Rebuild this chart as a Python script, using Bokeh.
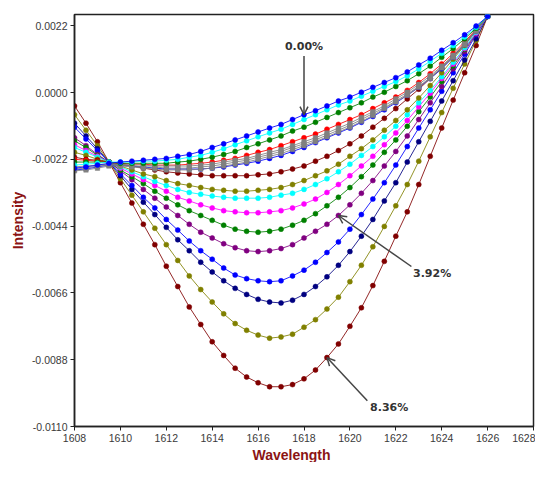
from bokeh.plotting import figure
from bokeh.models import FixedTicker, PrintfTickFormatter, Arrow, OpenHead, Label, Title
from bokeh.embed import file_html
from bokeh.resources import INLINE

# ---------------- data ----------------
wavelength = [1608.0, 1608.5, 1609.0, 1609.5, 1610.0, 1610.5, 1611.0, 1611.5, 1612.0, 1612.5,
              1613.0, 1613.5, 1614.0, 1614.5, 1615.0, 1615.5, 1616.0, 1616.5, 1617.0, 1617.5,
              1618.0, 1618.5, 1619.0, 1619.5, 1620.0, 1620.5, 1621.0, 1621.5, 1622.0, 1622.5,
              1623.0, 1623.5, 1624.0, 1624.5, 1625.0, 1625.5, 1626.0]

s_blue_000 = [-0.00249, -0.00245, -0.00239, -0.00233, -0.00229, -0.00226, -0.00223, -0.00220, -0.00217, -0.00210,
              -0.00204, -0.00194, -0.00181, -0.00169, -0.00156, -0.00143, -0.00130, -0.00117, -0.00105, -0.00089,
              -0.00073, -0.00060, -0.00044, -0.00028, -0.00015, 0.00001, 0.00017, 0.00033, 0.00049, 0.00068,
              0.00091, 0.00113, 0.00139, 0.00164, 0.00190, 0.00219, 0.00251]
s_cyan_a = [-0.00239, -0.00236, -0.00233, -0.00229, -0.00229, -0.00229, -0.00226, -0.00226, -0.00223, -0.00220,
            -0.00213, -0.00207, -0.00197, -0.00185, -0.00172, -0.00159, -0.00146, -0.00133, -0.00121, -0.00105,
            -0.00089, -0.00073, -0.00057, -0.00041, -0.00028, -0.00012, 0.00004, 0.00020, 0.00036, 0.00055,
            0.00078, 0.00103, 0.00129, 0.00155, 0.00183, 0.00215, 0.00251]
s_green_a = [-0.00229, -0.00229, -0.00229, -0.00229, -0.00233, -0.00233, -0.00233, -0.00233, -0.00233, -0.00229,
             -0.00226, -0.00220, -0.00213, -0.00204, -0.00194, -0.00181, -0.00169, -0.00156, -0.00143, -0.00127,
             -0.00114, -0.00098, -0.00082, -0.00066, -0.00050, -0.00034, -0.00015, 0.00001, 0.00020, 0.00039,
             0.00062, 0.00087, 0.00116, 0.00145, 0.00177, 0.00212, 0.00251]
s_red = [-0.00220, -0.00223, -0.00226, -0.00229, -0.00233, -0.00236, -0.00236, -0.00239, -0.00239, -0.00239,
         -0.00236, -0.00233, -0.00229, -0.00223, -0.00217, -0.00207, -0.00197, -0.00188, -0.00175, -0.00162,
         -0.00149, -0.00137, -0.00121, -0.00105, -0.00089, -0.00073, -0.00053, -0.00034, -0.00015, 0.00007,
         0.00033, 0.00062, 0.00094, 0.00129, 0.00167, 0.00209, 0.00251]
s_blue_b = [-0.00255, -0.00252, -0.00245, -0.00239, -0.00239, -0.00242, -0.00245, -0.00249, -0.00252, -0.00252,
            -0.00252, -0.00252, -0.00249, -0.00245, -0.00239, -0.00233, -0.00226, -0.00217, -0.00207, -0.00194,
            -0.00181, -0.00165, -0.00149, -0.00133, -0.00117, -0.00098, -0.00079, -0.00057, -0.00034, -0.00009,
            0.00017, 0.00046, 0.00078, 0.00116, 0.00158, 0.00203, 0.00251]
s_gray_1 = [-0.00245, -0.00242, -0.00239, -0.00236, -0.00236, -0.00239, -0.00239, -0.00242, -0.00242, -0.00242,
            -0.00242, -0.00239, -0.00236, -0.00229, -0.00223, -0.00217, -0.00207, -0.00197, -0.00188, -0.00175,
            -0.00162, -0.00149, -0.00133, -0.00117, -0.00101, -0.00082, -0.00063, -0.00044, -0.00021, 0.00001,
            0.00027, 0.00055, 0.00087, 0.00123, 0.00161, 0.00206, 0.00251]
s_gray_2 = [-0.00252, -0.00249, -0.00242, -0.00239, -0.00239, -0.00242, -0.00245, -0.00245, -0.00249, -0.00249,
            -0.00249, -0.00245, -0.00242, -0.00236, -0.00229, -0.00223, -0.00213, -0.00204, -0.00194, -0.00181,
            -0.00169, -0.00156, -0.00140, -0.00124, -0.00108, -0.00089, -0.00069, -0.00050, -0.00028, -0.00005,
            0.00020, 0.00049, 0.00084, 0.00119, 0.00158, 0.00203, 0.00251]
s_gray_3 = [-0.00258, -0.00255, -0.00249, -0.00242, -0.00242, -0.00245, -0.00249, -0.00252, -0.00255, -0.00255,
            -0.00255, -0.00252, -0.00249, -0.00242, -0.00236, -0.00229, -0.00220, -0.00210, -0.00201, -0.00188,
            -0.00175, -0.00162, -0.00146, -0.00130, -0.00114, -0.00095, -0.00076, -0.00053, -0.00031, -0.00009,
            0.00017, 0.00046, 0.00081, 0.00116, 0.00158, 0.00203, 0.00251]
s_darkred_a = [-0.00213, -0.00220, -0.00223, -0.00229, -0.00236, -0.00242, -0.00249, -0.00255, -0.00261, -0.00265,
               -0.00268, -0.00271, -0.00274, -0.00274, -0.00274, -0.00274, -0.00271, -0.00268, -0.00261, -0.00252,
               -0.00242, -0.00226, -0.00210, -0.00191, -0.00169, -0.00143, -0.00114, -0.00085, -0.00053, -0.00021,
               0.00011, 0.00046, 0.00081, 0.00119, 0.00161, 0.00206, 0.00251]
s_olive_a = [-0.00197, -0.00207, -0.00220, -0.00229, -0.00242, -0.00255, -0.00268, -0.00277, -0.00290, -0.00300,
             -0.00306, -0.00313, -0.00319, -0.00322, -0.00325, -0.00325, -0.00322, -0.00319, -0.00313, -0.00303,
             -0.00290, -0.00274, -0.00258, -0.00236, -0.00210, -0.00185, -0.00156, -0.00124, -0.00092, -0.00057,
             -0.00018, 0.00023, 0.00065, 0.00110, 0.00155, 0.00203, 0.00251]
s_cyan_b = [-0.00181, -0.00197, -0.00213, -0.00229, -0.00245, -0.00261, -0.00277, -0.00293, -0.00306, -0.00319,
            -0.00329, -0.00335, -0.00341, -0.00345, -0.00348, -0.00348, -0.00348, -0.00345, -0.00338, -0.00332,
            -0.00319, -0.00303, -0.00284, -0.00261, -0.00236, -0.00207, -0.00178, -0.00146, -0.00111, -0.00073,
            -0.00034, 0.00007, 0.00052, 0.00100, 0.00148, 0.00199, 0.00251]
s_magenta = [-0.00172, -0.00191, -0.00210, -0.00229, -0.00249, -0.00268, -0.00287, -0.00306, -0.00325, -0.00345,
             -0.00357, -0.00370, -0.00380, -0.00389, -0.00393, -0.00396, -0.00396, -0.00393, -0.00389, -0.00380,
             -0.00367, -0.00351, -0.00329, -0.00303, -0.00274, -0.00242, -0.00210, -0.00172, -0.00133, -0.00092,
             -0.00047, -0.00002, 0.00046, 0.00094, 0.00145, 0.00196, 0.00251]
s_green_b = [-0.00159, -0.00181, -0.00207, -0.00229, -0.00255, -0.00277, -0.00300, -0.00325, -0.00348, -0.00370,
             -0.00389, -0.00405, -0.00421, -0.00437, -0.00450, -0.00457, -0.00460, -0.00457, -0.00450, -0.00437,
             -0.00421, -0.00399, -0.00373, -0.00345, -0.00313, -0.00277, -0.00239, -0.00197, -0.00156, -0.00111,
             -0.00063, -0.00015, 0.00036, 0.00087, 0.00142, 0.00196, 0.00251]
s_purple_392 = [-0.00149, -0.00175, -0.00204, -0.00229, -0.00258, -0.00287, -0.00319, -0.00348, -0.00377, -0.00405,
                -0.00434, -0.00460, -0.00479, -0.00498, -0.00511, -0.00521, -0.00524, -0.00521, -0.00514, -0.00501,
                -0.00479, -0.00457, -0.00434, -0.00405, -0.00370, -0.00332, -0.00290, -0.00242, -0.00194, -0.00143,
                -0.00089, -0.00034, 0.00020, 0.00078, 0.00135, 0.00193, 0.00251]
s_blue_c = [-0.00114, -0.00153, -0.00191, -0.00229, -0.00268, -0.00306, -0.00345, -0.00380, -0.00418, -0.00453,
            -0.00489, -0.00521, -0.00549, -0.00578, -0.00601, -0.00613, -0.00620, -0.00623, -0.00620, -0.00604,
            -0.00585, -0.00559, -0.00527, -0.00492, -0.00450, -0.00402, -0.00351, -0.00297, -0.00239, -0.00178,
            -0.00117, -0.00057, 0.00004, 0.00065, 0.00126, 0.00190, 0.00251]
s_navy = [-0.00101, -0.00143, -0.00185, -0.00229, -0.00274, -0.00319, -0.00361, -0.00402, -0.00444, -0.00485,
          -0.00521, -0.00559, -0.00591, -0.00620, -0.00645, -0.00665, -0.00681, -0.00690, -0.00693, -0.00684,
          -0.00665, -0.00639, -0.00607, -0.00569, -0.00524, -0.00473, -0.00418, -0.00357, -0.00297, -0.00229,
          -0.00162, -0.00095, -0.00028, 0.00039, 0.00107, 0.00177, 0.00251]
s_olive_b = [-0.00073, -0.00124, -0.00175, -0.00229, -0.00284, -0.00338, -0.00393, -0.00447, -0.00501, -0.00553,
             -0.00604, -0.00649, -0.00690, -0.00729, -0.00761, -0.00783, -0.00799, -0.00809, -0.00805, -0.00796,
             -0.00773, -0.00748, -0.00713, -0.00674, -0.00623, -0.00569, -0.00508, -0.00441, -0.00373, -0.00303,
             -0.00226, -0.00146, -0.00066, 0.00014, 0.00094, 0.00171, 0.00251]
s_darkred_836 = [-0.00044, -0.00101, -0.00162, -0.00229, -0.00297, -0.00364, -0.00434, -0.00501, -0.00572, -0.00639,
                 -0.00706, -0.00764, -0.00821, -0.00866, -0.00908, -0.00937, -0.00956, -0.00969, -0.00969, -0.00962,
                 -0.00943, -0.00914, -0.00873, -0.00828, -0.00770, -0.00709, -0.00636, -0.00556, -0.00473, -0.00393,
                 -0.00303, -0.00210, -0.00117, -0.00025, 0.00065, 0.00155, 0.00251]

series = [s_darkred_836, s_olive_b, s_navy, s_blue_c, s_purple_392, s_green_b, s_magenta, s_cyan_b,
          s_olive_a, s_darkred_a, s_blue_b, s_red, s_gray_3, s_gray_2, s_gray_1, s_green_a, s_cyan_a, s_blue_000]
colors = ["#800000", "#808000", "#000080", "#0000FF", "#800080", "#008000", "#FF00FF", "#00FFFF",
          "#808000", "#800000", "#0000FF", "#FF0000", "#808080", "#808080", "#808080", "#008000", "#00FFFF", "#0000FF"]
markers = ["circle"] * 12 + ["square"] * 3 + ["circle"] * 3

x_ticks = [1608, 1610, 1612, 1614, 1616, 1618, 1620, 1622, 1624, 1626, 1628]
y_ticks = [-0.0110, -0.0088, -0.0066, -0.0044, -0.0022, 0.0, 0.0022]

# annotation texts and the wavelengths their arrows point at
notes = ["0.00%", "3.92%", "8.36%"]
note_targets = [(1618.0, s_blue_000), (1619.5, s_purple_392), (1619.0, s_darkred_836)]

# ---------------- figure ----------------
p = figure(width=535, height=462, x_range=(1608, 1628), y_range=(-0.0110, 0.00257),
           output_backend="svg", toolbar_location=None,
           min_border_left=74, min_border_right=2, min_border_top=14, min_border_bottom=30)
p.background_fill_color = "white"
p.border_fill_color = "white"
p.outline_line_color = "#222222"
p.outline_line_width = 1.5
p.grid.visible = False

for ys, c, m in zip(series, colors, markers):
    p.line(wavelength, ys, line_color=c, line_width=1, line_alpha=0.85)
    p.scatter(wavelength, ys, marker=m, size=5 if m == "circle" else 4.5,
              fill_color=c, line_color=c, line_width=0.5)

tick_font = "Liberation Sans"
label_col = "#8B1414"
for ax in (p.xaxis[0], p.yaxis[0]):
    ax.axis_line_color = "#222222"
    ax.axis_line_width = 1.5
    ax.major_tick_line_color = "#222222"
    ax.major_tick_in = 0
    ax.major_tick_out = 4
    ax.minor_tick_line_color = None
    ax.major_label_text_font = tick_font
    ax.major_label_text_font_size = "10.5px"
    ax.major_label_text_color = "#3a3a3a"
    ax.axis_label_text_font = tick_font
    ax.axis_label_text_font_style = "bold"
    ax.axis_label_text_font_size = "14px"
    ax.axis_label_text_color = label_col

p.xaxis.ticker = FixedTicker(ticks=x_ticks)
p.yaxis.ticker = FixedTicker(ticks=y_ticks)
p.yaxis.formatter = PrintfTickFormatter(format="%.4f")
p.yaxis.axis_label = "Intensity"
p.xaxis.major_label_standoff = 3
p.yaxis.major_label_standoff = 3
p.yaxis.axis_label_standoff = 3

# x-axis title, a little left of the frame centre as in the original
p.add_layout(Title(text="Wavelength", align="left", offset=178, standoff=0,
                   text_font=tick_font, text_font_style="bold", text_font_size="14px",
                   text_color=label_col), "below")

arrow_col = "#454545"
# (text x, text y, text align, arrow tail x, arrow tail y)
note_layout = [(1618.0, 0.00150, "center", 1618.0, 0.00120),
               (1622.75, -0.00595, "left", 1622.68, -0.00573),
               (1620.88, -0.01038, "left", 1620.76, -0.01015)]
for txt, (tx, ser), (lx, ly, al, ax0, ay0) in zip(notes, note_targets, note_layout):
    ty = ser[wavelength.index(tx)]
    p.add_layout(Arrow(end=OpenHead(size=8, line_color=arrow_col, line_width=1.5),
                       x_start=ax0, y_start=ay0, x_end=tx, y_end=ty,
                       line_color=arrow_col, line_width=1.5))
    p.add_layout(Label(x=lx, y=ly, text=txt, text_align=al, text_baseline="middle",
                       text_font="DejaVu Sans", text_font_style="bold",
                       text_font_size="11px", text_color="#333333"))

open("out.html", "w").write(file_html(p, INLINE))
